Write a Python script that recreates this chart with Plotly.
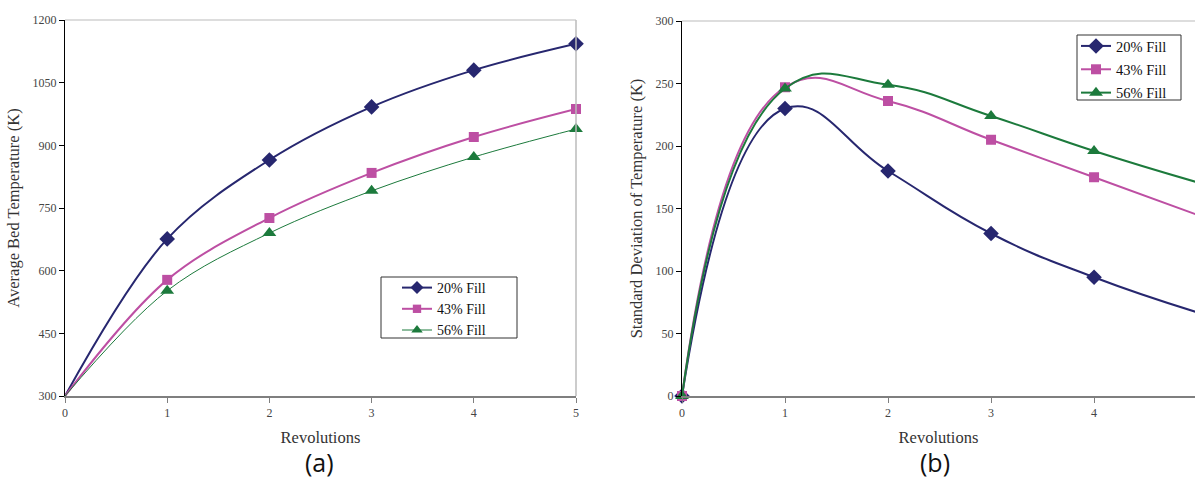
import plotly.graph_objects as go

revs = [0, 1, 2, 3, 4, 5]
labels = ["20% Fill", "43% Fill", "56% Fill"]

# (a) Average bed temperature (K)
avg_20 = [300, 676, 865, 992, 1080, 1143]
avg_43 = [300, 578, 726, 834, 920, 987]
avg_56 = [300, 552, 690, 791, 872, 939]

# (b) Standard deviation of temperature (K)
std_20 = [0, 230, 180, 130, 95, 67]
std_43 = [0, 247, 236, 205, 175, 145]
std_56 = [0, 246, 249, 224, 196, 171]

colors = ["#27276f", "#bd4fa3", "#1c7a3c"]
symbols = ["diamond", "square", "triangle-up"]
msizes = [12, 10, 12]
widths_a = [2, 2, 1]

W, H = 1195, 481
SERIF = "Liberation Serif, Times New Roman, serif"

fig = go.Figure()

for i, ys in enumerate([avg_20, avg_43, avg_56]):
    fig.add_trace(go.Scatter(
        x=revs, y=ys, name=labels[i], mode="lines+markers",
        line=dict(color=colors[i], width=widths_a[i], shape="spline", smoothing=1.0),
        marker=dict(symbol=symbols[i], size=[0] + [msizes[i]] * 5, color=colors[i],
                    opacity=1, line=dict(width=0)),
        xaxis="x", yaxis="y", legend="legend", cliponaxis=False,
    ))

for i, ys in enumerate([std_20, std_43, std_56]):
    fig.add_trace(go.Scatter(
        x=revs, y=ys, name=labels[i], mode="lines+markers",
        line=dict(color=colors[i], width=2, shape="spline", smoothing=1.3),
        marker=dict(symbol=symbols[i], size=msizes[i], color=colors[i], opacity=1,
                    line=dict(width=0)),
        xaxis="x2", yaxis="y2", legend="legend2", legendgroup="g%d" % i, cliponaxis=False,
    ))

ydom = [(H - 396) / H, (H - 20) / H]
ydom2 = [(H - 396) / H, (H - 21) / H]

tickfont = dict(family=SERIF, size=12, color="#444444")
titlefont = dict(family=SERIF, size=16.5, color="#333333")

common_x = dict(
    tickmode="linear", dtick=1, showgrid=False, zeroline=False, automargin=False,
    showline=True, linecolor="#7f7f7f", linewidth=2,
    ticks="outside", ticklen=5, tickcolor="#7f7f7f", tickwidth=1,
    tickfont=tickfont, title_font=titlefont, title_standoff=12,
)
common_y = dict(
    showgrid=False, zeroline=False, showline=True, linecolor="#000000", linewidth=1,
    ticks="outside", ticklen=5, tickcolor="#000000", tickwidth=1, automargin=False,
    tickfont=tickfont, title_font=titlefont,
)

fig.update_layout(
    width=W, height=H, margin=dict(l=0, r=0, t=0, b=0),
    paper_bgcolor="white", plot_bgcolor="white",
    xaxis=dict(domain=[65 / W, 576 / W], range=[0, 5], anchor="y",
               title_text="Revolutions", **common_x),
    yaxis=dict(domain=ydom, range=[300, 1200], tickmode="linear", dtick=150, anchor="x",
               title_text="Average Bed Temperature (K)", title_standoff=8, **common_y),
    xaxis2=dict(domain=[682 / W, 1.0], range=[0, 4.98], anchor="y2",
                title_text="Revolutions", **common_x),
    yaxis2=dict(domain=ydom2, range=[0, 300], tickmode="linear", dtick=50, anchor="x2",
                title_text="Standard Deviation of Temperature (K)", title_standoff=8, **common_y),
    legend=dict(x=397 / W, y=(H - 272) / H, xanchor="left", yanchor="top",
                bgcolor="rgba(0,0,0,0)", borderwidth=0,
                font=dict(family=SERIF, size=14, color="#111111"),
                tracegroupgap=0, itemwidth=30),
    legend2=dict(x=1076 / W, y=(H - 30) / H, xanchor="left", yanchor="top",
                 bgcolor="rgba(0,0,0,0)", borderwidth=0,
                 font=dict(family=SERIF, size=14.5, color="#111111"),
                 tracegroupgap=1.5, itemwidth=30),
    showlegend=True,
)

# legend boxes
fig.add_shape(type="rect", xref="paper", yref="paper", layer="below",
              x0=381 / W, x1=517 / W, y0=(H - 338) / H, y1=(H - 277) / H,
              line=dict(color="#333333", width=1), fillcolor="white")
fig.add_shape(type="rect", xref="paper", yref="paper", layer="below",
              x0=1077 / W, x1=1181 / W, y0=(H - 100) / H, y1=(H - 35) / H,
              line=dict(color="#333333", width=1), fillcolor="white")

# light top/right frame lines
fig.add_shape(type="line", xref="x domain", yref="y domain", x0=0, x1=1, y0=1, y1=1,
              line=dict(color="#bbbbbb", width=1))
fig.add_shape(type="line", xref="x domain", yref="y domain", x0=1, x1=1, y0=0, y1=1,
              line=dict(color="#bbbbbb", width=1.5))
fig.add_shape(type="line", xref="x2 domain", yref="y2 domain", x0=0, x1=1, y0=1, y1=1,
              line=dict(color="#bbbbbb", width=1))

# panel labels
for txt, xc in [("(a)", 319), ("(b)", 935)]:
    fig.add_annotation(text=txt, x=xc / W, y=(H - 462) / H, xref="paper", yref="paper",
                       showarrow=False, xanchor="center", yanchor="middle",
                       font=dict(family="Open Sans, Noto Sans, sans-serif", size=25, color="#111111"))

fig.write_html("out.html", post_script="document.body.style.margin='0px';")
